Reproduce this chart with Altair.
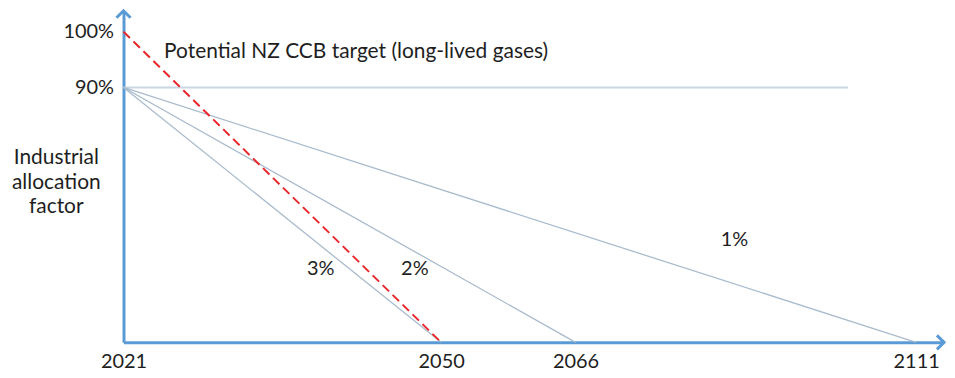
import altair as alt
import pandas as pd

# --- data ---
series = ["3%", "3%", "2%", "2%", "1%", "1%", "target", "target"]
years = [2021, 2050, 2021, 2066, 2021, 2111, 2021, 2050]
values = [90, 0, 90, 0, 90, 0, 100, 0]

ref_years = [2021, 2102]
ref_values = [90, 90]

x_ticks = [2021, 2050, 2066, 2111]
y_ticks = [90, 100]

label_text = ["3%", "2%", "1%"]
label_year = [2039, 2047.6, 2087]
label_value = [26, 26, 36]

title_text = ["Potential NZ CCB target (long-lived gases)"]
title_year = [2024.7]
title_value = [96.3]

FONT = "Lato"
AXIS_BLUE = "#5b9bd5"
TXT = "#1e1e1e"

lines_df = pd.DataFrame({"series": series, "year": years, "value": values})
ref_df = pd.DataFrame({"year": ref_years, "value": ref_values})
lab_df = pd.DataFrame({"text": label_text, "year": label_year, "value": label_value})
ttl_df = pd.DataFrame({"text": title_text, "year": title_year, "value": title_value})

xscale = alt.Scale(domain=[2021, 2050, 2066, 2111, 2114.5],
                   range=[0, 319, 454, 796, 824], nice=False, zero=False)
yscale = alt.Scale(domain=[0, 90, 100, 120], range=[333, 77, 21, 0],
                   nice=False, zero=False)

X = alt.X("year:Q", scale=xscale,
          axis=alt.Axis(values=x_ticks, format="d", title=None, grid=False, ticks=False,
                        domainColor=AXIS_BLUE, domainWidth=3, labelFont=FONT,
                        labelFontSize=20, labelColor=TXT, labelPadding=9,
                        labelFlush=False))
Y = alt.Y("value:Q", scale=yscale,
          axis=alt.Axis(values=y_ticks, labelExpr="datum.value + '%'",
                        title=["Industrial", "allocation", "factor"], titleAngle=0,
                        titleAlign="center", titleBaseline="top", titleX=-68, titleY=136,
                        titleFont=FONT, titleFontSize=21, titleFontWeight="normal",
                        titleColor=TXT, titleLineHeight=25,
                        grid=False, ticks=False, domainColor=AXIS_BLUE, domainWidth=3,
                        labelFont=FONT, labelFontSize=20, labelColor=TXT,
                        labelPadding=10))

ref = alt.Chart(ref_df).mark_line(color="#c9d7e5", strokeWidth=2).encode(x=X, y=Y)

grey = alt.Chart(lines_df).transform_filter("datum.series != 'target'").mark_line(
    color="#a9bbcd", strokeWidth=1.3).encode(
    x=alt.X("year:Q", scale=xscale), y=alt.Y("value:Q", scale=yscale), detail="series:N")

red = alt.Chart(lines_df).transform_filter("datum.series == 'target'").mark_line(
    color="#e8262b", strokeWidth=2, strokeDash=[9, 5]).encode(
    x=alt.X("year:Q", scale=xscale), y=alt.Y("value:Q", scale=yscale))

labels = alt.Chart(lab_df).mark_text(font=FONT, fontSize=20, color=TXT).encode(
    x=alt.X("year:Q", scale=xscale), y=alt.Y("value:Q", scale=yscale), text="text:N")

title = alt.Chart(ttl_df).mark_text(font=FONT, fontSize=21, color=TXT, align="left",
                                    baseline="middle").encode(
    x=alt.X("year:Q", scale=xscale), y=alt.Y("value:Q", scale=yscale), text="text:N")

arrow_up = alt.Chart(pd.DataFrame({"year": [2021], "value": [120]})).mark_point(
    shape="M-1,1L0,0L1,1", size=200, filled=False, color=AXIS_BLUE, strokeWidth=3,
    opacity=1).encode(x=alt.X("year:Q", scale=xscale), y=alt.Y("value:Q", scale=yscale))

arrow_right = alt.Chart(pd.DataFrame({"year": [2114.5], "value": [0]})).mark_point(
    shape="M-1,-1L0,0L-1,1", size=200, filled=False, color=AXIS_BLUE, strokeWidth=3,
    opacity=1).encode(x=alt.X("year:Q", scale=xscale), y=alt.Y("value:Q", scale=yscale))

chart = alt.layer(ref, grey, red, labels, title, arrow_up, arrow_right).properties(
    width=824, height=333,
    background="white",
    autosize=alt.AutoSizeParams(type="none"),
    padding={"left": 116, "top": 2, "right": 3, "bottom": 34},
).configure_view(stroke=None)

chart.save("out.html", embed_options={"renderer": "svg", "actions": False})
